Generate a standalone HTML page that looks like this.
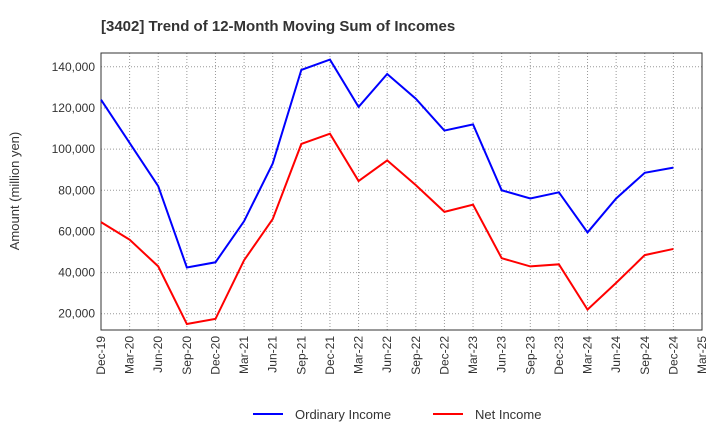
<!DOCTYPE html>
<html><head><meta charset="utf-8"><style>
body{margin:0;background:#fff;font-family:"Liberation Sans",sans-serif;}
</style></head><body>
<svg id="chart" width="720" height="440" xmlns="http://www.w3.org/2000/svg" font-family="Liberation Sans, sans-serif">
<text x="101" y="31" font-size="15" font-weight="bold" fill="#333">[3402]  Trend of 12-Month Moving Sum of Incomes</text>
<text transform="translate(19,191) rotate(-90)" text-anchor="middle" font-size="13" fill="#333">Amount (million yen)</text>
<g id="grid"></g>
<rect x="101" y="53" width="601" height="277" fill="none" stroke="#333" stroke-width="1"/>
<g id="series"></g>
<g id="labels"></g>
<g>
<line x1="253" y1="414" x2="283" y2="414" stroke="#0000ff" stroke-width="2"/>
<text x="295" y="419" font-size="13" fill="#333">Ordinary Income</text>
<line x1="433" y1="414" x2="463" y2="414" stroke="#ff0000" stroke-width="2"/>
<text x="475" y="419" font-size="13" fill="#333">Net Income</text>
</g>
</svg>
<script>
const categories=["Dec-19","Mar-20","Jun-20","Sep-20","Dec-20","Mar-21","Jun-21","Sep-21","Dec-21","Mar-22","Jun-22","Sep-22","Dec-22","Mar-23","Jun-23","Sep-23","Dec-23","Mar-24","Jun-24","Sep-24","Dec-24","Mar-25"];
const ordinaryIncome=[124000,103000,82000,42500,45000,65000,93000,138500,143500,120500,136500,124500,109000,112000,80000,76000,79000,59500,76000,88500,91000];
const netIncome=[64500,56000,43000,15000,17500,46000,66000,102500,107500,84500,94500,82500,69500,73000,47000,43000,44000,22000,35000,48500,51500];
const yTicks=[20000,40000,60000,80000,100000,120000,140000];
const NS="http://www.w3.org/2000/svg";
const X0=101,X1=702,Y0=53,Y1=330,YMIN=12100,YMAX=146700;
function xs(i){return X0+i*(X1-X0)/(categories.length-1);}
function ys(v){return Y1-(v-YMIN)/(YMAX-YMIN)*(Y1-Y0);}
const grid=document.getElementById('grid'),lab=document.getElementById('labels'),ser=document.getElementById('series');
function mk(t,a,p){const e=document.createElementNS(NS,t);for(const k in a)e.setAttribute(k,a[k]);p.appendChild(e);return e;}
categories.forEach((c,i)=>{
 const g=mk('line',{x1:xs(i),x2:xs(i),y1:Y0,y2:Y1,stroke:'#999','stroke-dasharray':'1,2','stroke-width':1},grid);
 
 
 const t=mk('text',{transform:`translate(${xs(i)+4},${Y1+6}) rotate(-90)`,'text-anchor':'end','font-size':12,fill:'#333'},lab);
 t.textContent=c;
 
 
});
yTicks.forEach(v=>{
 const g=mk('line',{x1:X0,x2:X1,y1:ys(v),y2:ys(v),stroke:'#999','stroke-dasharray':'1,2','stroke-width':1},grid);
 
 
 const t=mk('text',{x:X0-6,y:ys(v)+4,'text-anchor':'end','font-size':12,fill:'#333'},lab);
 t.textContent=v.toLocaleString('en-US');
 
 
});
function line(d,col,name){
 const p=mk('polyline',{points:d.map((v,i)=>xs(i)+','+ys(v)).join(' '),fill:'none',stroke:col,'stroke-width':2},ser);
 
 
}
line(ordinaryIncome,'#0000ff','ordinary-income-line');
line(netIncome,'#ff0000','net-income-line');
</script>
</body></html>
